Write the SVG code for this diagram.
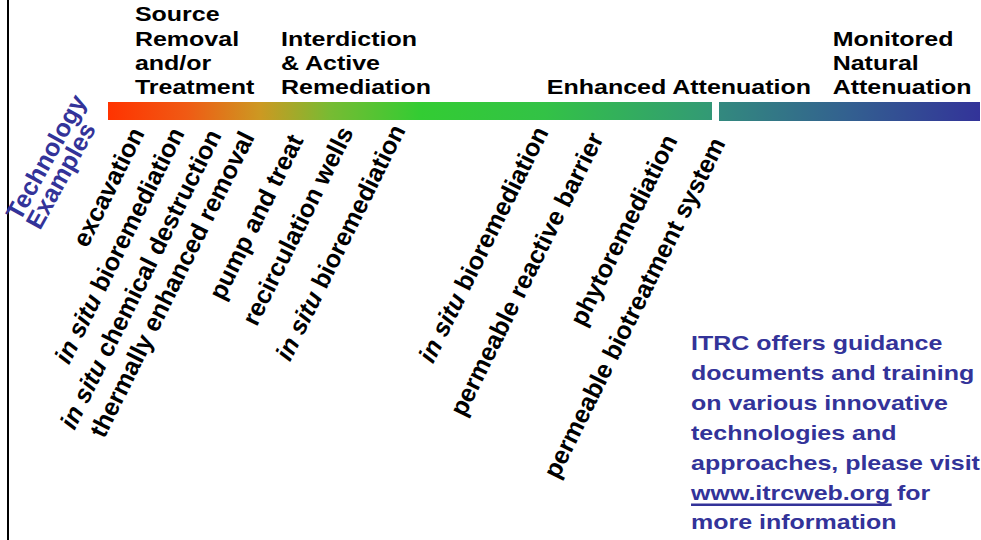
<svg xmlns="http://www.w3.org/2000/svg" width="981" height="540" viewBox="0 0 981 540">
  <style>
    text { font-family: "Liberation Sans", Arial, Helvetica, sans-serif; font-weight: bold; }
    .hd { font-size: 21px; fill: #000; }
    .tech { font-size: 25px; fill: #000; }
    .axis { font-size: 25px; fill: #333399; }
    .note { font-size: 21px; fill: #333399; }
    .it { font-style: italic; }
  </style>
  <defs>
    <!-- one continuous spectrum across both bar segments -->
    <linearGradient id="spectrum" gradientUnits="userSpaceOnUse" x1="108" y1="0" x2="980" y2="0">
      <stop offset="0" stop-color="#ff3300"/>
      <stop offset="0.09" stop-color="#f05a14"/>
      <stop offset="0.175" stop-color="#cc9922"/>
      <stop offset="0.255" stop-color="#77bb33"/>
      <stop offset="0.358" stop-color="#33cc33"/>
      <stop offset="0.5" stop-color="#33c246"/>
      <stop offset="0.69" stop-color="#339a75"/>
      <stop offset="0.698" stop-color="#338a7e"/>
      <stop offset="0.85" stop-color="#336090"/>
      <stop offset="1" stop-color="#333399"/>
    </linearGradient>
  </defs>

  <rect width="981" height="540" fill="#ffffff"/>
  <line x1="8" y1="0" x2="8" y2="540" stroke="#000" stroke-width="2"/>

  <g id="spectrum-bar">
    <rect x="108" y="102" width="604" height="18" fill="url(#spectrum)"/>
    <rect x="719" y="102" width="261" height="19" fill="url(#spectrum)"/>
  </g>

  <!-- headings and note, set in a horizontally widened frame -->
  <g transform="scale(1.19,1)">
    <g id="stage-source">
      <text class="hd" x="113.4" y="21.3">Source</text>
      <text class="hd" x="113.4" y="45.7">Removal</text>
      <text class="hd" x="113.4" y="70.1">and/or</text>
      <text class="hd" x="113.4" y="94.5">Treatment</text>
    </g>
    <g id="stage-interdiction">
      <text class="hd" x="236.1" y="45.7">Interdiction</text>
      <text class="hd" x="236.1" y="70.1">&amp; Active</text>
      <text class="hd" x="236.1" y="94.5">Remediation</text>
    </g>
    <g id="stage-enhanced">
      <text class="hd" x="459.5" y="94.5">Enhanced Attenuation</text>
    </g>
    <g id="stage-mna">
      <text class="hd" x="699.7" y="45.7">Monitored</text>
      <text class="hd" x="699.7" y="70.1">Natural</text>
      <text class="hd" x="699.7" y="94.5">Attenuation</text>
    </g>

    <g id="itrc-note">
      <text class="note" x="580.7" y="350">ITRC offers guidance</text>
      <text class="note" x="580.7" y="380">documents and training</text>
      <text class="note" x="580.7" y="410">on various innovative</text>
      <text class="note" x="580.7" y="440">technologies and</text>
      <text class="note" x="580.7" y="470">approaches, please visit</text>
      <text class="note" x="580.7" y="500">www.itrcweb.org for</text>
      <rect x="580.7" y="503.5" width="168.6" height="2.5" fill="#333399"/>
      <text class="note" x="580.7" y="529">more information</text>
    </g>
  </g>

  <!-- slanted technology labels, anchored at their upper ends -->
  <g id="axis-label">
    <text class="axis" transform="translate(20 222) rotate(-61)">Technology</text>
    <text class="axis" transform="translate(40 231) rotate(-61)">Examples</text>
  </g>

  <g id="tech-excavation">
    <text class="tech" text-anchor="end" transform="translate(145 133) rotate(-63.5)">excavation</text>
  </g>
  <g id="tech-insitu-bio-1">
    <text class="tech" text-anchor="end" transform="translate(185 133) rotate(-63.5)"><tspan class="it">in situ</tspan> bioremediation</text>
  </g>
  <g id="tech-insitu-chem">
    <text class="tech" text-anchor="end" transform="translate(222 135) rotate(-63.5)"><tspan class="it">in situ</tspan> chemical destruction</text>
  </g>
  <g id="tech-thermal">
    <text class="tech" text-anchor="end" transform="translate(255 137) rotate(-63.5)">thermally enhanced removal</text>
  </g>
  <g id="tech-pump-treat">
    <text class="tech" text-anchor="end" transform="translate(304 140) rotate(-63.5)">pump and treat</text>
  </g>
  <g id="tech-recirculation">
    <text class="tech" text-anchor="end" transform="translate(354 132) rotate(-63.5)">recirculation wells</text>
  </g>
  <g id="tech-insitu-bio-2">
    <text class="tech" text-anchor="end" transform="translate(406 130) rotate(-63.5)"><tspan class="it">in situ</tspan> bioremediation</text>
  </g>
  <g id="tech-insitu-bio-3">
    <text class="tech" text-anchor="end" transform="translate(549 132) rotate(-63.5)"><tspan class="it">in situ</tspan> bioremediation</text>
  </g>
  <g id="tech-prb">
    <text class="tech" text-anchor="end" transform="translate(604 138) rotate(-63.5)">permeable reactive barrier</text>
  </g>
  <g id="tech-phyto">
    <text class="tech" text-anchor="end" transform="translate(678 140) rotate(-63.5)">phytoremediation</text>
  </g>
  <g id="tech-pbs">
    <text class="tech" text-anchor="end" transform="translate(726 143) rotate(-63.5)">permeable biotreatment system</text>
  </g>
</svg>
